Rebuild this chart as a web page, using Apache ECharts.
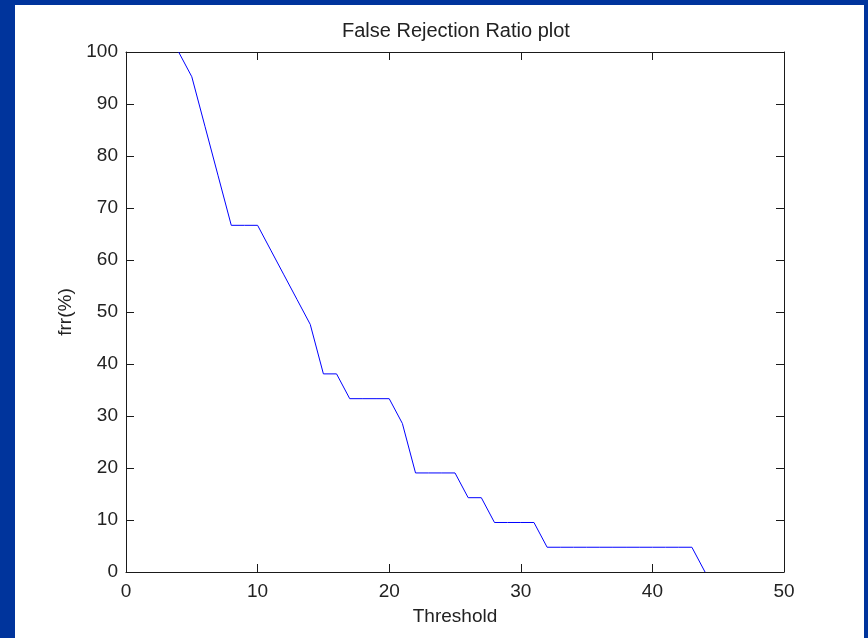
<!DOCTYPE html>
<html>
<head>
<meta charset="utf-8">
<script src="https://cdn.jsdelivr.net/npm/echarts@6/dist/echarts.min.js"></script>
<style>
html,body{margin:0;padding:0;width:868px;height:638px;overflow:hidden;background:#00349c;}
#panel{position:absolute;left:15px;top:5px;width:849px;height:633px;background:#ffffff;}
#chart{width:849px;height:633px;}
</style>
</head>
<body>
<div id="panel"><div id="chart"></div></div>
<script>
const chartTitle = 'False Rejection Ratio plot';
const xLabel = 'Threshold';
const yLabel = 'frr(%)';
const thresholds = [4,5,6,7,8,9,10,11,12,13,14,15,16,17,18,19,20,21,22,23,24,25,26,27,28,29,30,31,32,33,34,35,36,37,38,39,40,41,42,43,44];
const frrValues = [100,95.24,85.71,76.19,66.67,66.67,66.67,61.90,57.14,52.38,47.62,38.10,38.10,33.33,33.33,33.33,33.33,28.57,19.05,19.05,19.05,19.05,14.29,14.29,9.52,9.52,9.52,9.52,4.76,4.76,4.76,4.76,4.76,4.76,4.76,4.76,4.76,4.76,4.76,4.76,0];

const font = 'Arial, "Liberation Sans", sans-serif';
const axisColor = '#1a1a1a';
const lbl = {color:'#222', fontFamily:font, fontSize:19};

const chart = echarts.init(document.getElementById('chart'), null, {renderer:'canvas'});
const grid = {left:111, top:47, width:658, height:520};
const mirrorAxis = (extra) => Object.assign({
  type:'value', min:0,
  axisLine:{show:true, onZero:false, lineStyle:{color:axisColor, width:1}},
  axisTick:{show:true, inside:true, length:8, lineStyle:{color:axisColor, width:1}},
  axisLabel:{show:false}, splitLine:{show:false}
}, extra);

chart.setOption({
  animation:false,
  title:{text:chartTitle, left:327, top:16, padding:0,
    textStyle:{color:'#222', fontFamily:font, fontSize:20, fontWeight:'normal'}},
  grid:grid,
  xAxis:[
    {type:'value', min:0, max:50, interval:10, position:'bottom',
     name:xLabel, nameLocation:'middle', nameGap:35,
     nameTextStyle:lbl,
     axisLine:{show:true, onZero:false, lineStyle:{color:axisColor, width:1}},
     axisTick:{show:true, inside:true, length:8, lineStyle:{color:axisColor}},
     axisLabel:Object.assign({margin:10}, lbl),
     splitLine:{show:false}},
    mirrorAxis({max:50, interval:10, position:'top'})
  ],
  yAxis:[
    {type:'value', min:0, max:100, interval:10, position:'left',
     name:yLabel, nameLocation:'middle', nameGap:51, nameRotate:90,
     nameTextStyle:lbl,
     axisLine:{show:true, onZero:false, lineStyle:{color:axisColor, width:1}},
     axisTick:{show:true, inside:true, length:8, lineStyle:{color:axisColor}},
     axisLabel:Object.assign({margin:8}, lbl),
     splitLine:{show:false}},
    mirrorAxis({max:100, interval:10, position:'right'})
  ],
  series:[{
    type:'line',
    data:thresholds.map((x,i)=>[x, frrValues[i]]),
    showSymbol:false, symbol:'none',
    lineStyle:{color:'#0000ff', width:1},
    xAxisIndex:0, yAxisIndex:0
  }]
});
</script>
</body>
</html>
